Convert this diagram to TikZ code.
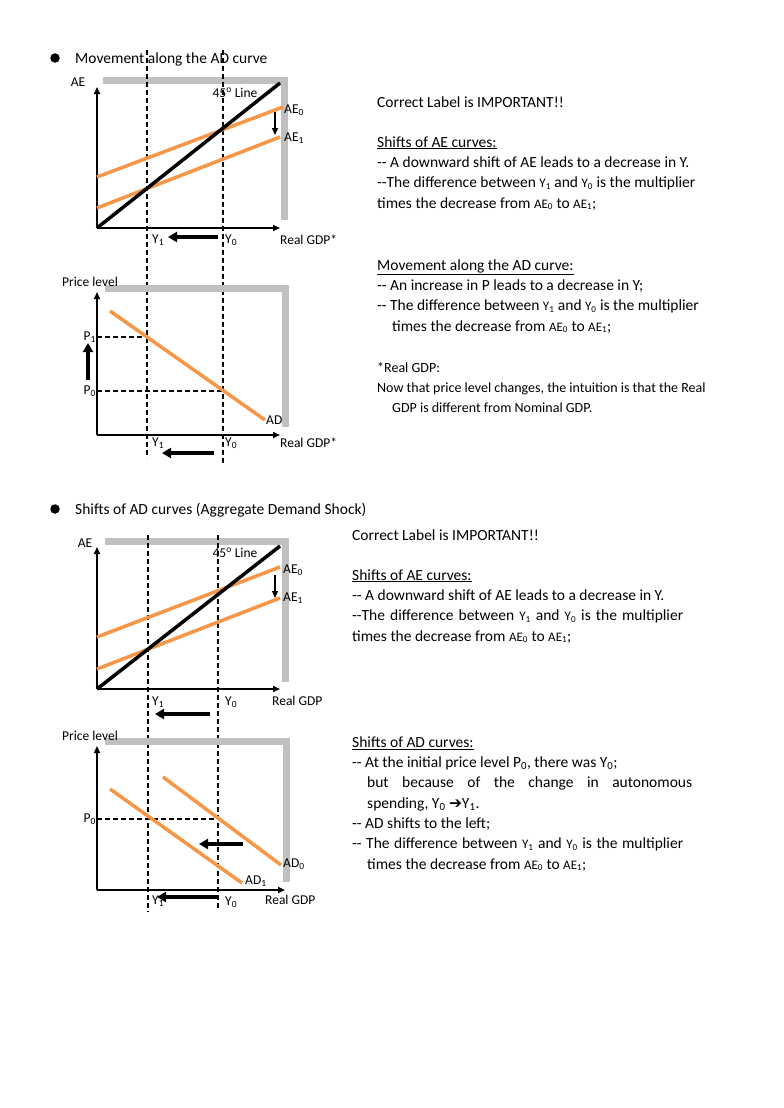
\documentclass[tikz,border=0pt]{standalone}
\usepackage{fontspec}
\setmainfont{Carlito}
\newfontfamily\symfont{DejaVu Sans}
\usetikzlibrary{arrows.meta,positioning}
\definecolor{adorange}{RGB}{247,150,70}
\definecolor{framegray}{RGB}{192,192,192}
\newcommand{\smsub}[2]{{\fontsize{13}{13}\selectfont #1\textsubscript{#2}}}

\begin{document}
\begin{tikzpicture}[
  x=1pt, y=-1pt,
  >={Triangle[length=7pt,width=6pt]},
  lab/.style={font=\fontsize{13.5}{15}\selectfont, inner sep=1pt},
  body/.style={font=\fontsize{15.5}{20.3}\selectfont, align=left, anchor=base west, inner sep=0pt},
  note/.style={font=\fontsize{14}{20}\selectfont, align=left, anchor=base west, inner sep=0pt},
  bullet/.style={circle, fill, inner sep=0pt, minimum size=9.5pt},
  axis/.style={line width=1.6pt, ->},
  curve/.style={line width=3.5pt, adorange},
  diag/.style={line width=3.5pt, black},
  guide/.style={line width=1.2pt, dash pattern=on 5pt off 3pt},
  frame/.style={line width=7pt, framegray},
  bigarrow/.style={line width=3.5pt, -{Triangle[length=9pt,width=10pt]}},
  smallarrow/.style={line width=1.3pt, ->}
]
\useasboundingbox (0,0) rectangle (784,1108);

% ---------- Section 1: movement along AD ----------
\node (bul1) [bullet] at (55,58) {};
\node (head1) [body, anchor=west] at (75,59) {Movement along the AD curve};

% AE graph
\coordinate (O1) at (97,228);
\coordinate (O1x) at (280,228);
\coordinate (O1y) at (97,87);
\coordinate (F1a) at (103,80);
\coordinate (F1b) at (284,80);
\coordinate (F1c) at (284,220);
\draw[frame] (F1a) -- (F1b) -- (F1c);
\draw[axis] (O1) -- (O1x);
\draw[axis] (O1) -- (O1y);

\coordinate (D1top) at (147,50);
\coordinate (D1bot) at (147,458);
\coordinate (D0top) at (223,50);
\coordinate (D0bot) at (223,463);
\draw[guide] (D1top) -- (D1bot);
\draw[guide] (D0top) -- (D0bot);

\coordinate (L45a) at (280,83);
\coordinate (AE0a) at (97,177);
\coordinate (AE0b) at (283,107);
\coordinate (AE1a) at (97,208);
\coordinate (AE1b) at (280,137);
\draw[curve] (AE0a) -- (AE0b);
\draw[curve] (AE1a) -- (AE1b);
\draw[diag] (O1) -- (L45a);

\node (lAE) [lab] at (78,82) {AE};
\node (l45) [lab] at (235,93) {45\textsuperscript{o} Line};
\node (lAE0) [lab, anchor=west] at (283,110) {AE\textsubscript{0}};
\node (lAE1) [lab, anchor=west] at (283,138) {AE\textsubscript{1}};
\node (lY1) [lab, anchor=west] at (151,240) {Y\textsubscript{1}};
\node (lY0) [lab, anchor=west] at (224,240) {Y\textsubscript{0}};
\node (lGDP) [lab, anchor=west] at (279,240) {Real GDP*};

\coordinate (dA) at (275,112);
\coordinate (dB) at (275,135);
\draw[smallarrow] (dA) -- (dB);
\coordinate (mA) at (218,237);
\coordinate (mB) at (168,237);
\draw[bigarrow] (mA) -- (mB);

% AD graph
\coordinate (O2) at (97,435);
\coordinate (O2x) at (280,435);
\coordinate (O2y) at (97,292);
\coordinate (F2a) at (105,288);
\coordinate (F2b) at (285,288);
\coordinate (F2c) at (285,427);
\draw[frame] (F2a) -- (F2b) -- (F2c);
\draw[axis] (O2) -- (O2x);
\draw[axis] (O2) -- (O2y);

\coordinate (P1a) at (97,337);
\coordinate (P1b) at (147,337);
\coordinate (P0a) at (97,391);
\coordinate (P0b) at (223,391);
\draw[guide] (P1a) -- (P1b);
\draw[guide] (P0a) -- (P0b);

\coordinate (ADa) at (110,311);
\coordinate (ADb) at (265,420);
\draw[curve] (ADa) -- (ADb);

\node (lPL) [lab] at (90,282) {Price level};
\node (lP1) [lab, anchor=east] at (97,337) {P\textsubscript{1}};
\node (lP0) [lab, anchor=east] at (97,391) {P\textsubscript{0}};
\node (lAD) [lab, anchor=west] at (265,420) {AD};
\node (lY1b) [lab, anchor=west] at (151,443) {Y\textsubscript{1}};
\node (lY0b) [lab, anchor=west] at (224,443) {Y\textsubscript{0}};
\node (lGDPb) [lab, anchor=west] at (279,443) {Real GDP*};

\coordinate (uA) at (88,380);
\coordinate (uB) at (88,343);
\draw[bigarrow] (uA) -- (uB);
\coordinate (nA) at (214,453);
\coordinate (nB) at (162,453);
\draw[bigarrow] (nA) -- (nB);

% text, section 1
\node (tx1) [body] at (377,107) {Correct Label is IMPORTANT!!};
\node (tx2) [body] at (377,208) {\underline{Shifts of AE curves:}\\
-{}- A downward shift of AE leads to a decrease in Y.\\
-{}-The difference between \smsub{Y}{1} and \smsub{Y}{0} is the multiplier\\
times the decrease from \smsub{AE}{0} to \smsub{AE}{1};};
\node (tx3) [body] at (377,331) {\underline{Movement along the AD curve:}\\
-{}- An increase in P leads to a decrease in Y;\\
-{}- The difference between \smsub{Y}{1} and \smsub{Y}{0} is the multiplier\\
\hspace*{15pt}times the decrease from \smsub{AE}{0} to \smsub{AE}{1};};
\node (tx4) [note] at (377,412) {*Real GDP:\\
Now that price level changes, the intuition is that the Real\\
\hspace*{15pt}GDP is different from Nominal GDP.};

% ---------- Section 2: shifts of AD ----------
\node (bul2) [bullet] at (55,509) {};
\node (head2) [body, anchor=west] at (75,510) {Shifts of AD curves (Aggregate Demand Shock)};

% AE graph
\coordinate (O3) at (97,689);
\coordinate (O3x) at (280,689);
\coordinate (O3y) at (97,547);
\coordinate (F3a) at (105,541);
\coordinate (F3b) at (285,541);
\coordinate (F3c) at (285,682);
\draw[frame] (F3a) -- (F3b) -- (F3c);
\draw[axis] (O3) -- (O3x);
\draw[axis] (O3) -- (O3y);

\coordinate (E1top) at (148,535);
\coordinate (E1bot) at (148,912);
\coordinate (E0top) at (218,535);
\coordinate (E0bot) at (218,908);
\draw[guide] (E1top) -- (E1bot);
\draw[guide] (E0top) -- (E0bot);

\coordinate (M45a) at (280,546);
\coordinate (BE0a) at (97,637);
\coordinate (BE0b) at (280,567);
\coordinate (BE1a) at (97,669);
\coordinate (BE1b) at (280,598);
\draw[curve] (BE0a) -- (BE0b);
\draw[curve] (BE1a) -- (BE1b);
\draw[diag] (O3) -- (M45a);

\node (lAEc) [lab] at (85,543) {AE};
\node (l45c) [lab] at (235,553) {45\textsuperscript{o} Line};
\node (lAE0c) [lab, anchor=west] at (282,570) {AE\textsubscript{0}};
\node (lAE1c) [lab, anchor=west] at (282,598) {AE\textsubscript{1}};
\node (lY1c) [lab, anchor=west] at (151,702) {Y\textsubscript{1}};
\node (lY0c) [lab, anchor=west] at (224,702) {Y\textsubscript{0}};
\node (lGDPc) [lab, anchor=west] at (271,701) {Real GDP};

\coordinate (dC) at (275,575);
\coordinate (dD) at (275,598);
\draw[smallarrow] (dC) -- (dD);
\coordinate (mC) at (210,714);
\coordinate (mD) at (155,714);
\draw[bigarrow] (mC) -- (mD);

% AD graph
\coordinate (O4) at (97,890);
\coordinate (O4x) at (285,890);
\coordinate (O4y) at (97,746);
\coordinate (F4a) at (105,741);
\coordinate (F4b) at (286,741);
\coordinate (F4c) at (286,882);
\draw[frame] (F4a) -- (F4b) -- (F4c);
\draw[axis] (O4) -- (O4x);
\draw[axis] (O4) -- (O4y);

\coordinate (Q0a) at (97,819);
\coordinate (Q0b) at (218,819);
\draw[guide] (Q0a) -- (Q0b);

\coordinate (AD1a) at (110,789);
\coordinate (AD1b) at (242,883);
\coordinate (AD0a) at (163,777);
\coordinate (AD0b) at (281,865);
\draw[curve] (AD1a) -- (AD1b);
\draw[curve] (AD0a) -- (AD0b);

\node (lPLd) [lab] at (90,736) {Price level};
\node (lP0d) [lab, anchor=east] at (97,819) {P\textsubscript{0}};
\node (lAD0) [lab, anchor=west] at (282,864) {AD\textsubscript{0}};
\node (lAD1) [lab, anchor=west] at (244,881) {AD\textsubscript{1}};
\node (lY1d) [lab, anchor=west] at (151,901) {Y\textsubscript{1}};
\node (lY0d) [lab, anchor=west] at (224,902) {Y\textsubscript{0}};
\node (lGDPd) [lab, anchor=west] at (264,900) {Real GDP};

\coordinate (sA) at (243,844);
\coordinate (sB) at (199,844);
\draw[bigarrow] (sA) -- (sB);
\coordinate (bA) at (217,897);
\coordinate (bB) at (157,897);
\draw[bigarrow] (bA) -- (bB);

% text, section 2
\node (tx5) [body] at (352,540) {Correct Label is IMPORTANT!!};
\node (tx6) [body] at (352,641) {\underline{Shifts of AE curves:}\\
-{}- A downward shift of AE leads to a decrease in Y.\\
\makebox[331pt][s]{-{}-The difference between \smsub{Y}{1} and \smsub{Y}{0} is the multiplier}\\
times the decrease from \smsub{AE}{0} to \smsub{AE}{1};};
\node (tx7) [body] at (352,869) {\underline{Shifts of AD curves:}\\
-{}- At the initial price level P\textsubscript{0}, there was Y\textsubscript{0};\\
\hspace*{15pt}\makebox[325pt][s]{but because of the change in autonomous}\\
\hspace*{15pt}spending, Y\textsubscript{0} {\symfont ➔}Y\textsubscript{1}.\\
-{}- AD shifts to the left;\\
\makebox[331pt][s]{-{}- The difference between \smsub{Y}{1} and \smsub{Y}{0} is the multiplier}\\
\hspace*{15pt}times the decrease from \smsub{AE}{0} to \smsub{AE}{1};};

\end{tikzpicture}
\end{document}
